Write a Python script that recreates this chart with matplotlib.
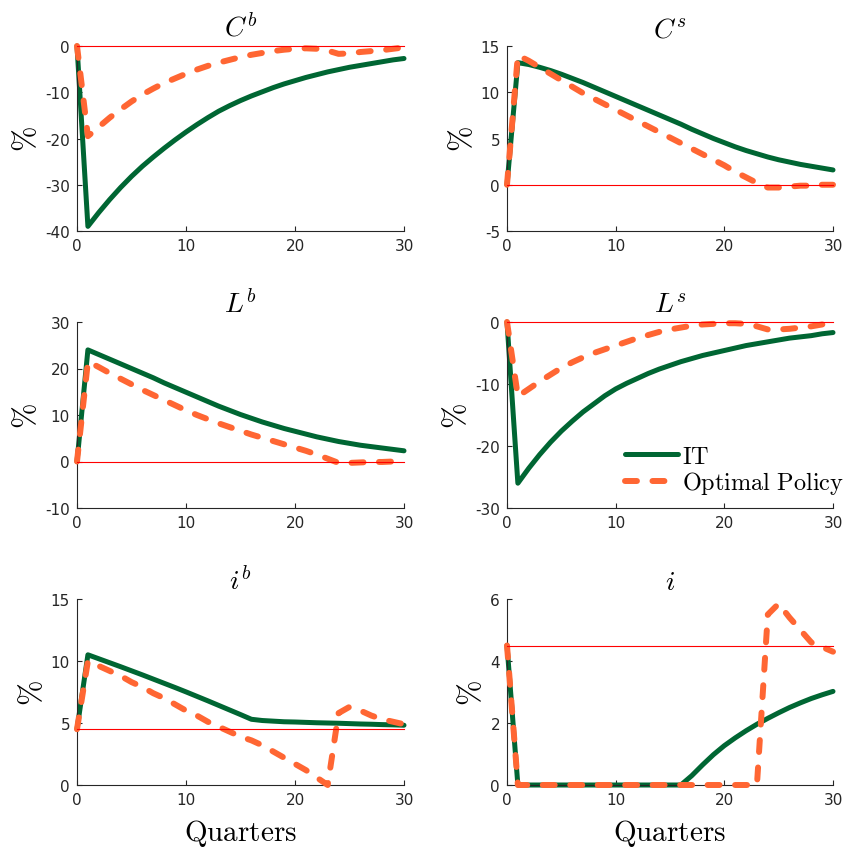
import matplotlib
matplotlib.use('Agg')
import matplotlib.pyplot as plt

plt.rcParams['mathtext.fontset'] = 'cm'
plt.rcParams['font.family'] = 'DejaVu Sans'
plt.rcParams['axes.unicode_minus'] = False

# ---------------- data ----------------
quarters = list(range(0, 31))

cb_it = [0, -39.0, -36.0, -33.2, -30.6, -28.2, -26.0, -24.0, -22.1, -20.3, -18.6,
         -17.0, -15.5, -14.1, -12.9, -11.8, -10.8, -9.9, -9.0, -8.2, -7.5,
         -6.8, -6.2, -5.6, -5.1, -4.6, -4.2, -3.8, -3.4, -3.0, -2.7]
cb_op = [0, -19.5, -17.5, -15.5, -13.7, -12.0, -10.5, -9.2, -8.0, -7.0, -6.0,
         -5.1, -4.3, -3.6, -3.0, -2.4, -1.9, -1.5, -1.1, -0.8, -0.6,
         -0.5, -0.6, -1.0, -1.7, -1.6, -1.3, -1.1, -0.9, -0.6, -0.3]

cs_it = [0, 13.2, 13.0, 12.7, 12.35, 11.95, 11.5, 11.05, 10.55, 10.05, 9.55,
         9.05, 8.55, 8.05, 7.55, 7.05, 6.55, 6.0, 5.5, 5.0, 4.55,
         4.1, 3.7, 3.35, 3.0, 2.7, 2.45, 2.2, 2.0, 1.8, 1.6]
cs_op = [0, 14.0, 13.4, 12.7, 12.0, 11.3, 10.6, 9.9, 9.3, 8.7, 8.1,
         7.5, 6.9, 6.3, 5.7, 5.1, 4.5, 3.9, 3.3, 2.7, 2.1,
         1.4, 0.8, 0.2, -0.3, -0.3, -0.2, -0.1, -0.1, 0.0, 0.0]

lb_it = [0, 24.0, 23.0, 22.0, 21.0, 20.0, 19.0, 18.0, 16.9, 15.9, 14.9,
         13.9, 12.9, 11.9, 11.0, 10.1, 9.3, 8.5, 7.8, 7.1, 6.5,
         5.9, 5.3, 4.8, 4.3, 3.9, 3.5, 3.2, 2.9, 2.6, 2.3]
lb_op = [0, 21.5, 20.3, 19.0, 17.8, 16.6, 15.4, 14.3, 13.2, 12.1, 11.0,
         10.0, 9.1, 8.2, 7.4, 6.6, 5.8, 5.1, 4.4, 3.7, 3.0,
         2.3, 1.5, 0.6, -0.3, -0.3, -0.2, -0.1, -0.1, 0.0, 0.0]

ls_it = [0, -26.0, -23.6, -21.4, -19.4, -17.6, -16.0, -14.5, -13.2, -11.9, -10.8,
         -9.9, -9.1, -8.3, -7.6, -7.0, -6.4, -5.9, -5.4, -5.0, -4.6,
         -4.2, -3.8, -3.5, -3.2, -2.9, -2.6, -2.4, -2.2, -1.9, -1.7]
ls_op = [0, -12.0, -10.8, -9.6, -8.5, -7.4, -6.5, -5.7, -5.0, -4.4, -3.8,
         -3.2, -2.6, -2.1, -1.6, -1.2, -0.9, -0.6, -0.4, -0.3, -0.2,
         -0.2, -0.3, -0.7, -1.2, -1.2, -1.1, -0.9, -0.7, -0.4, -0.2]

ib_it = [4.5, 10.5, 10.18, 9.86, 9.54, 9.21, 8.88, 8.54, 8.2, 7.86, 7.51,
         7.15, 6.79, 6.42, 6.05, 5.68, 5.3, 5.2, 5.15, 5.1, 5.08,
         5.05, 5.02, 5.0, 4.98, 4.95, 4.92, 4.9, 4.87, 4.85, 4.82]
ib_op = [4.5, 10.0, 9.6, 9.2, 8.8, 8.3, 7.9, 7.4, 7.0, 6.5, 6.0,
         5.6, 5.1, 4.7, 4.3, 3.9, 3.6, 3.2, 2.7, 2.2, 1.7,
         1.2, 0.6, 0.0, 5.8, 6.3, 6.0, 5.6, 5.3, 5.1, 4.9]

i_it = [4.5, 0, 0, 0, 0, 0, 0, 0, 0, 0, 0,
        0, 0, 0, 0, 0, 0, 0.3, 0.65, 0.98, 1.27,
        1.52, 1.75, 1.96, 2.15, 2.33, 2.5, 2.65, 2.79, 2.91, 3.02]
i_op = [4.5, 0, 0, 0, 0, 0, 0, 0, 0, 0, 0,
        0, 0, 0, 0, 0, 0, 0, 0, 0, 0,
        0, 0, 0, 5.5, 5.85, 5.4, 5.0, 4.6, 4.45, 4.3]

titles = [r'$C^b$', r'$C^s$', r'$L^b$', r'$L^s$', r'$i^b$', r'$i$']
it_series = [cb_it, cs_it, lb_it, ls_it, ib_it, i_it]
op_series = [cb_op, cs_op, lb_op, ls_op, ib_op, i_op]
steady_state = [0, 0, 0, 0, 4.5, 4.5]
y_limits = [(-40, 0), (-5, 15), (-10, 30), (-30, 0), (0, 15), (0, 6)]
y_ticks = [[-40, -30, -20, -10, 0], [-5, 0, 5, 10, 15], [-10, 0, 10, 20, 30],
           [-30, -20, -10, 0], [0, 5, 10, 15], [0, 2, 4, 6]]
x_ticks = [0, 10, 20, 30]
legend_labels = [r'$\mathrm{IT}$', r'$\mathrm{Optimal\ Policy}$']

# ---------------- layout ----------------
W, H = 846, 854
fig = plt.figure(figsize=(W / 100, H / 100), dpi=100)

col_px = [(77, 404), (507, 833)]
row_px = [(47, 232), (323, 509), (600, 786)]

GREEN = '#006633'
ORANGE = '#FF6633'
AXC = '#262626'

for k in range(6):
    r, c = divmod(k, 2)
    x0, x1 = col_px[c]
    y0, y1 = row_px[r]
    ax = fig.add_axes([x0 / W, 1 - y1 / H, (x1 - x0) / W, (y1 - y0) / H])
    l_it, = ax.plot(quarters, it_series[k], color=GREEN, lw=3.6, clip_on=False,
                    solid_capstyle='round', solid_joinstyle='round', zorder=2)
    l_op, = ax.plot(quarters, op_series[k], color=ORANGE, lw=4.3, clip_on=False,
                    linestyle=(0, (2.0, 2.6)), dash_capstyle='round',
                    dash_joinstyle='round', zorder=3)
    ax.axhline(steady_state[k], color='#FF0000', lw=0.8, zorder=4, clip_on=False)
    ax.set_xlim(0, 30)
    ax.set_ylim(*y_limits[k])
    ax.set_xticks(x_ticks)
    ax.set_yticks(y_ticks[k])
    for s in ('top', 'right'):
        ax.spines[s].set_visible(False)
    for s in ('left', 'bottom'):
        ax.spines[s].set_color(AXC)
        ax.spines[s].set_linewidth(0.8)
    ax.tick_params(direction='in', length=3.5, width=0.8, labelsize=11,
                   colors=AXC, pad=5)
    ax.set_title(titles[k], fontsize=20, pad=7)
    ax.set_ylabel(r'$\%$', fontsize=22, labelpad=3)
    if r == 2:
        ax.set_xlabel(r'$\mathrm{Quarters}$', fontsize=21, labelpad=7)
    if k == 3:
        ax.legend([l_it, l_op], legend_labels, loc='center left',
                  bbox_to_anchor=(0.362, 0.204), frameon=False, borderpad=0,
                  borderaxespad=0, handlelength=2.2, handletextpad=0.15,
                  labelspacing=0.05, fontsize=17.5)

fig.savefig('out.png', dpi=100)
